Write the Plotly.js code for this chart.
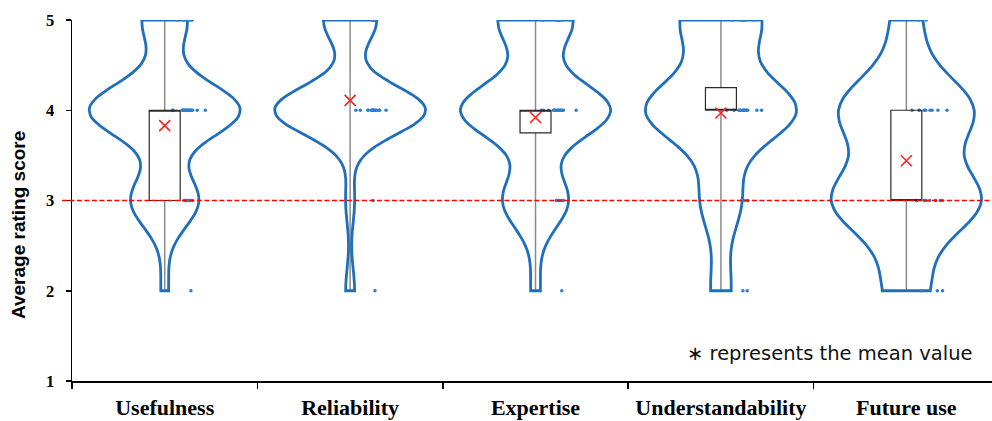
<!DOCTYPE html>
<html>
<head>
<meta charset="utf-8">
<script src="https://cdn.plot.ly/plotly-3.0.1.min.js"></script>
<style>
  html, body { margin: 0; padding: 0; background: #fff; overflow: hidden; }
  #chart { width: 992px; height: 421px; }
</style>
</head>
<body>
<div id="chart"></div>
<script>
// --- DATA ---
const categories = ['Usefulness', 'Reliability', 'Expertise', 'Understandability', 'Future use'];
const levels = [2, 3, 4, 5];

// number of answers at each score level, per category
const count2 = [1, 1, 1, 2, 3];
const count3 = [9, 1, 7, 4, 10];
const count4 = [20, 17, 16, 15, 9];
const count5 = [6, 6, 8, 8, 2];

// box statistics and means
const minVals = [2, 2, 2, 2, 2];
const q1Vals = [3, 4, 3.75, 4, 3];
const medVals = [4, 4, 4, 4, 3];
const q3Vals = [4, 4, 4, 4.25, 4];
const maxVals = [5, 5, 5, 5, 5];
const meanVals = [3.83, 4.11, 3.92, 3.97, 3.44];

// kernel bandwidth per violin
const bandwidths = [0.30, 0.27, 0.31, 0.35, 0.38];

const threshold = 3;

// --- STYLE ---
const VIOLIN_BLUE = '#1f6fbd';
const POINT_BLUE = '#2f7fcf';
const SERIF = 'Liberation Serif, Times New Roman, serif';

// expand counts to samples
function samplesFor(i) {
    let out = [];
    const counts = [count2[i], count3[i], count4[i], count5[i]];
    levels.forEach((lv, k) => {
        for (let n = 0; n < counts[k]; n++) out.push(lv);
    });
    return out;
}

let traces = [];

categories.forEach((cat, i) => {
    const ys = samplesFor(i);
    traces.push({
        type: 'violin',
        x: ys.map(() => cat),
        y: ys,
        name: cat,
        showlegend: false,
        spanmode: 'hard',
        bandwidth: bandwidths[i],
        scalemode: 'width',
        width: 0.81,
        side: 'both',
        line: { color: VIOLIN_BLUE, width: 2.8 },
        fillcolor: 'rgba(0,0,0,0)',
        box: { visible: false },
        meanline: { visible: false },
        points: 'all',
        pointpos: 0.32,
        jitter: 0.25,
        marker: { color: POINT_BLUE, size: 3.5, line: { width: 0 } },
        hoverinfo: 'y'
    });
});

// box part only (whiskers are drawn as gray shapes)
const boxIdx = categories.map((c, i) => i).filter(i => q3Vals[i] > q1Vals[i]);
traces.push({
    type: 'box',
    x: boxIdx.map(i => categories[i]),
    q1: boxIdx.map(i => q1Vals[i]),
    median: boxIdx.map(i => medVals[i]),
    q3: boxIdx.map(i => q3Vals[i]),
    lowerfence: boxIdx.map(i => q1Vals[i]),
    upperfence: boxIdx.map(i => q3Vals[i]),
    width: 0.167,
    whiskerwidth: 0,
    fillcolor: 'rgba(0,0,0,0)',
    line: { color: '#2b2b2b', width: 1.2 },
    boxpoints: false,
    showlegend: false,
    hoverinfo: 'skip'
});

// mean markers
traces.push({
    type: 'scatter',
    mode: 'markers',
    x: categories,
    y: meanVals,
    marker: { symbol: 'x-thin', size: 11, color: '#ff2020', line: { color: '#ff2020', width: 1.6 } },
    showlegend: false,
    hoverinfo: 'y'
});

// whisker lines and threshold line
let shapes = [];
categories.forEach((cat, i) => {
    const segs = [[minVals[i], q1Vals[i]], [q3Vals[i], maxVals[i]]];
    segs.forEach(s => {
        if (s[1] > s[0]) {
            shapes.push({
                type: 'line', xref: 'x', yref: 'y', layer: 'below',
                x0: i, x1: i, y0: s[0], y1: s[1],
                line: { color: '#8a8a8a', width: 1.5 }
            });
        }
    });
});
shapes.push({
    type: 'line', xref: 'paper', yref: 'y',
    x0: -0.011, x1: 1, y0: threshold, y1: threshold,
    line: { color: '#ff0000', width: 1.6, dash: '5px,2.5px' }
});

let layout = {
    width: 992,
    height: 421,
    margin: { l: 72, r: 0, t: 19.5, b: 39.5 },
    paper_bgcolor: '#ffffff',
    plot_bgcolor: '#ffffff',
    showlegend: false,
    violinmode: 'overlay',
    boxmode: 'overlay',
    xaxis: {
        type: 'category',
        categoryorder: 'array',
        categoryarray: categories,
        range: [-0.5, 4.462],
        tickson: 'boundaries',
        ticks: 'outside',
        ticklen: 6,
        tickwidth: 1.5,
        tickcolor: '#000',
        showline: true,
        linecolor: '#000',
        linewidth: 1.5,
        showgrid: false,
        zeroline: false,
        ticklabelstandoff: 6,
        tickfont: { family: SERIF, size: 22, color: '#000', weight: 'bold' }
    },
    yaxis: {
        range: [1, 5],
        tickvals: [1, 2, 3, 4, 5],
        ticks: 'outside',
        ticklen: 5,
        tickwidth: 1.5,
        tickcolor: '#000',
        showline: true,
        linecolor: '#000',
        linewidth: 1.5,
        showgrid: false,
        zeroline: false,
        ticklabelstandoff: 8,
        tickfont: { family: SERIF, size: 16.5, color: '#000', weight: 'bold' }
    },
    shapes: shapes,
    annotations: [
        {
            text: 'Average rating score',
            xref: 'paper', yref: 'paper',
            x: -0.0587, y: 0.432,
            xanchor: 'center', yanchor: 'middle',
            textangle: -90,
            showarrow: false,
            font: { family: 'Liberation Sans, Arial, sans-serif', size: 19, color: '#000', weight: 'bold' }
        },
        {
            text: '∗ represents the mean value',
            xref: 'paper', yref: 'paper',
            x: 0.9815, y: 0.076,
            xanchor: 'right', yanchor: 'middle',
            showarrow: false,
            font: { family: 'DejaVu Sans, sans-serif', size: 19.5, color: '#111' }
        }
    ]
};

Plotly.newPlot('chart', traces, layout, { displayModeBar: false, staticPlot: true });
</script>
</body>
</html>
